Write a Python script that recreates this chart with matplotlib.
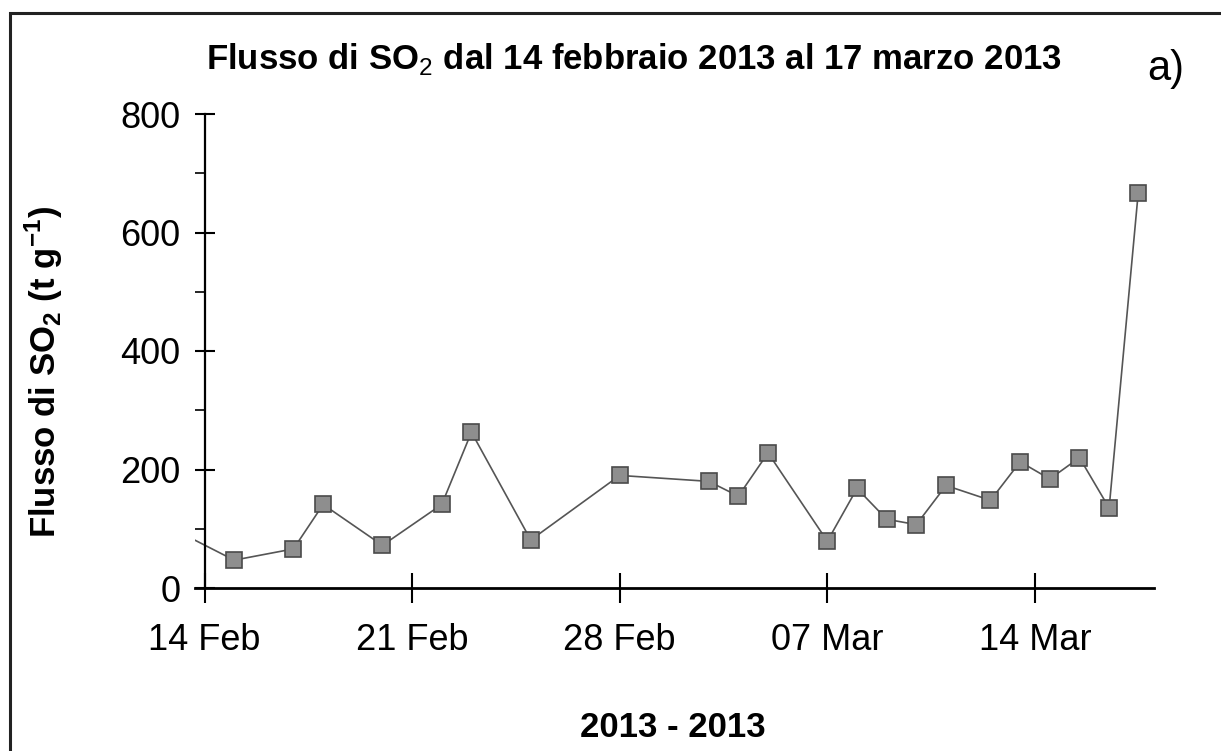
import matplotlib
matplotlib.use("Agg")
import matplotlib.pyplot as plt
import matplotlib.dates as mdates
from matplotlib.patches import Rectangle
from matplotlib.ticker import MultipleLocator
import pandas as pd

# data
dates = ['2013-02-13 00:00', '2013-02-15 00:00', '2013-02-17 00:00', '2013-02-18 00:00',
         '2013-02-20 00:00', '2013-02-22 00:00', '2013-02-23 00:00', '2013-02-25 00:00',
         '2013-02-28 00:00', '2013-03-03 00:00', '2013-03-04 00:00', '2013-03-05 00:00',
         '2013-03-07 00:00', '2013-03-08 00:00', '2013-03-09 00:00', '2013-03-10 00:00',
         '2013-03-11 00:00', '2013-03-12 12:00', '2013-03-13 12:00', '2013-03-14 12:00',
         '2013-03-15 12:00', '2013-03-16 12:00', '2013-03-17 11:30']
flux = [98, 47, 66, 141, 72, 141, 263, 81, 190, 180, 155, 228, 79, 168, 116,
        107, 173, 148, 213, 184, 220, 135, 666]
x_ticks = ['2013-02-14', '2013-02-21', '2013-02-28', '2013-03-07', '2013-03-14']

plt.rcParams['font.family'] = ['Liberation Sans', 'DejaVu Sans']
plt.rcParams['mathtext.fontset'] = 'custom'
plt.rcParams['mathtext.rm'] = 'Liberation Sans'
plt.rcParams['mathtext.bf'] = 'Liberation Sans:bold'

W, H = 1221, 751
fig = plt.figure(figsize=(W / 100, H / 100), dpi=100)

x = pd.to_datetime(dates, format='%Y-%m-%d %H:%M')
start = mdates.date2num(pd.Timestamp('2013-02-14'))
day_px = 29.66
left_px = 204.5 - 0.32 * day_px
right_px = 204.5 + 32 * day_px
ax = fig.add_axes([left_px / W, 1 - 588 / H, (right_px - left_px) / W, (588 - 114) / H])

ax.plot(x, flux, color='#555555', lw=1.2, marker='s', ms=11.5,
        mfc='#8e8e8e', mec='#4a4a4a', mew=1.2)

ax.set_xlim(start - 0.32, start + 32)
ax.set_ylim(0, 800)

for s in ['top', 'right']:
    ax.spines[s].set_visible(False)
ax.spines['left'].set_position(('data', start))
ax.spines['left'].set_linewidth(1.6)
ax.spines['bottom'].set_linewidth(2)

ax.set_xticks(pd.to_datetime(x_ticks))
ax.xaxis.set_major_formatter(mdates.DateFormatter('%d %b'))
ax.yaxis.set_major_locator(MultipleLocator(200))
ax.yaxis.set_minor_locator(MultipleLocator(100))
ax.tick_params(axis='x', direction='inout', length=22, width=1.5, labelsize=26, pad=14)
ax.tick_params(axis='y', which='major', direction='inout', length=15, width=1.5,
               labelsize=26, pad=10)
ax.tick_params(axis='y', which='minor', direction='out', length=7, width=1.2)

# titles and labels
fig.text(634 / W, 1 - 69 / H, r'Flusso di SO$_2$ dal 14 febbraio 2013 al 17 marzo 2013',
         ha='center', va='baseline', fontsize=25, fontweight='bold')
fig.text(1166 / W, 1 - 80 / H, 'a)', ha='center', va='baseline', fontsize=30)
fig.text(44 / W, 1 - 372 / H, r'Flusso di SO$_\mathbf{2}$ (t g$^\mathbf{-1}$)',
         rotation=90, ha='center', va='center', fontsize=25, fontweight='bold')
fig.text(673 / W, 1 - 737 / H, '2013 - 2013', ha='center', va='baseline',
         fontsize=25, fontweight='bold')

# outer frame
fig.patches.append(Rectangle((9.5 / W, -0.1), 2, 1.1 - 13.5 / H, transform=fig.transFigure,
                             fill=False, lw=2.2, ec='#222222'))

fig.savefig('out.png', dpi=100)
